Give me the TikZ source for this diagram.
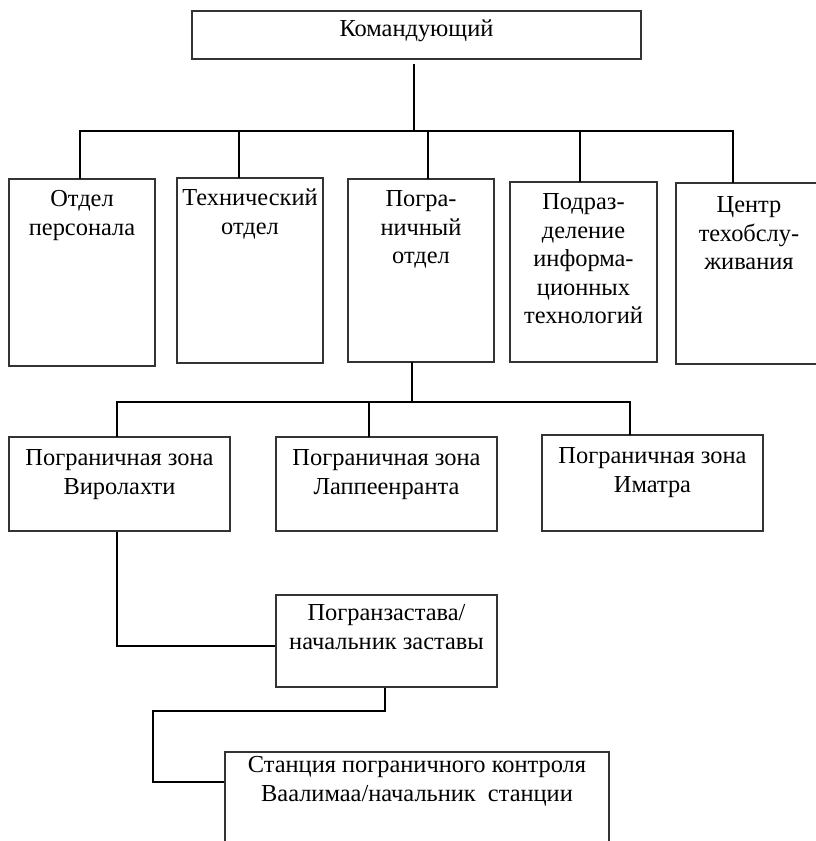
\documentclass[tikz,border=0pt]{standalone}
\usepackage{fontspec}
\setmainfont{Liberation Serif}
\newcommand{\boxfont}{\fontsize{24.4}{28.5}\selectfont}
\newcommand{\topstrut}{\rule{0pt}{22pt}}
\begin{document}
\begin{tikzpicture}[x=1pt,y=-1pt,
  orgbox/.style={draw=black!80,line width=1.1pt,fill=white,inner sep=0pt},
  orgtext/.style={anchor=north,inner sep=0pt,align=center,font=\boxfont},
  conn/.style={draw=black,line width=2pt,line cap=rect}]
\useasboundingbox (0,0) rectangle (816,841);
\clip (0,0) rectangle (816,841);
% boxes
\node[orgbox,minimum width=449pt,minimum height=48pt] (top) at (416.5,35) {};
\node[orgbox,minimum width=146pt,minimum height=187pt] (b1) at (82,272.5) {};
\node[orgbox,minimum width=146pt,minimum height=185pt] (b2) at (250,270.5) {};
\node[orgbox,minimum width=146pt,minimum height=183pt] (b3) at (421,270.5) {};
\node[orgbox,minimum width=147pt,minimum height=180pt] (b4) at (583.5,272) {};
\node[orgbox,minimum width=146pt,minimum height=181pt] (b5) at (749,273.5) {};
\node[orgbox,minimum width=221pt,minimum height=94pt] (z1) at (119.5,484) {};
\node[orgbox,minimum width=221pt,minimum height=94pt] (z2) at (386.5,484) {};
\node[orgbox,minimum width=221pt,minimum height=96pt] (z3) at (652.5,483) {};
\node[orgbox,minimum width=221pt,minimum height=92pt] (zs) at (386.5,641) {};
\node[orgbox,minimum width=384pt,minimum height=120pt] (st) at (417,812) {};
% texts
\node[orgtext] (ttop) at ([yshift=-4pt]top.north) {\topstrut Командующий};
\node[orgtext] (tb1) at ([yshift=-6pt]b1.north) {\topstrut Отдел\\персонала};
\node[orgtext] (tb2) at ([yshift=-6pt]b2.north) {\topstrut Технический\\отдел};
\node[orgtext] (tb3) at ([yshift=-6pt]b3.north) {\topstrut Погра-\\ничный\\отдел};
\node[orgtext] (tb4) at ([yshift=-6pt]b4.north) {\topstrut Подраз-\\деление\\информа-\\ционных\\технологий};
\node[orgtext] (tb5) at ([yshift=-8pt]b5.north) {\topstrut Центр\\техобслу-\\живания};
\node[orgtext] (tz1) at ([yshift=-7pt]z1.north) {\topstrut Пограничная зона\\Виролахти};
\node[orgtext] (tz2) at ([yshift=-7pt]z2.north) {\topstrut Пограничная зона\\Лаппеенранта};
\node[orgtext] (tz3) at ([yshift=-7pt]z3.north) {\topstrut Пограничная зона\\Иматра};
\node[orgtext] (tzs) at ([yshift=-4pt]zs.north) {\topstrut Погранзастава/\\начальник заставы};
\node[orgtext] (tst) at ([yshift=1pt]st.north) {\topstrut Станция пограничного контроля\\Ваалимаа/начальник\ \ станции};
% bus coordinates
\coordinate (bus1) at (414,131);
\coordinate (bus2) at (412,402);
% connectors
\draw[conn] (414,65) -- (bus1);
\draw[conn] (80,131) -- (733,131);
\draw[conn] (80,131) -- (80,0 |- b1.north);
\draw[conn] (239,131) -- (239,0 |- b2.north);
\draw[conn] (428,131) -- (428,0 |- b3.north);
\draw[conn] (580,131) -- (580,0 |- b4.north);
\draw[conn] (733,131) -- (733,0 |- b5.north);
\draw[conn] (bus2 |- b3.south) -- (bus2);
\draw[conn] (117,402) -- (630,402);
\draw[conn] (117,402) -- (117,0 |- z1.north);
\draw[conn] (369,402) -- (369,0 |- z2.north);
\draw[conn] (630,402) -- (630,0 |- z3.north);
\draw[conn,line cap=butt] (117,0 |- z1.south) -- (117,646) -- (zs.west |- 0,646);
\draw[conn,line cap=butt] (385,0 |- zs.south) -- (385,711) -- (153,711) -- (153,782) -- (st.west |- 0,782);
\end{tikzpicture}
\end{document}
